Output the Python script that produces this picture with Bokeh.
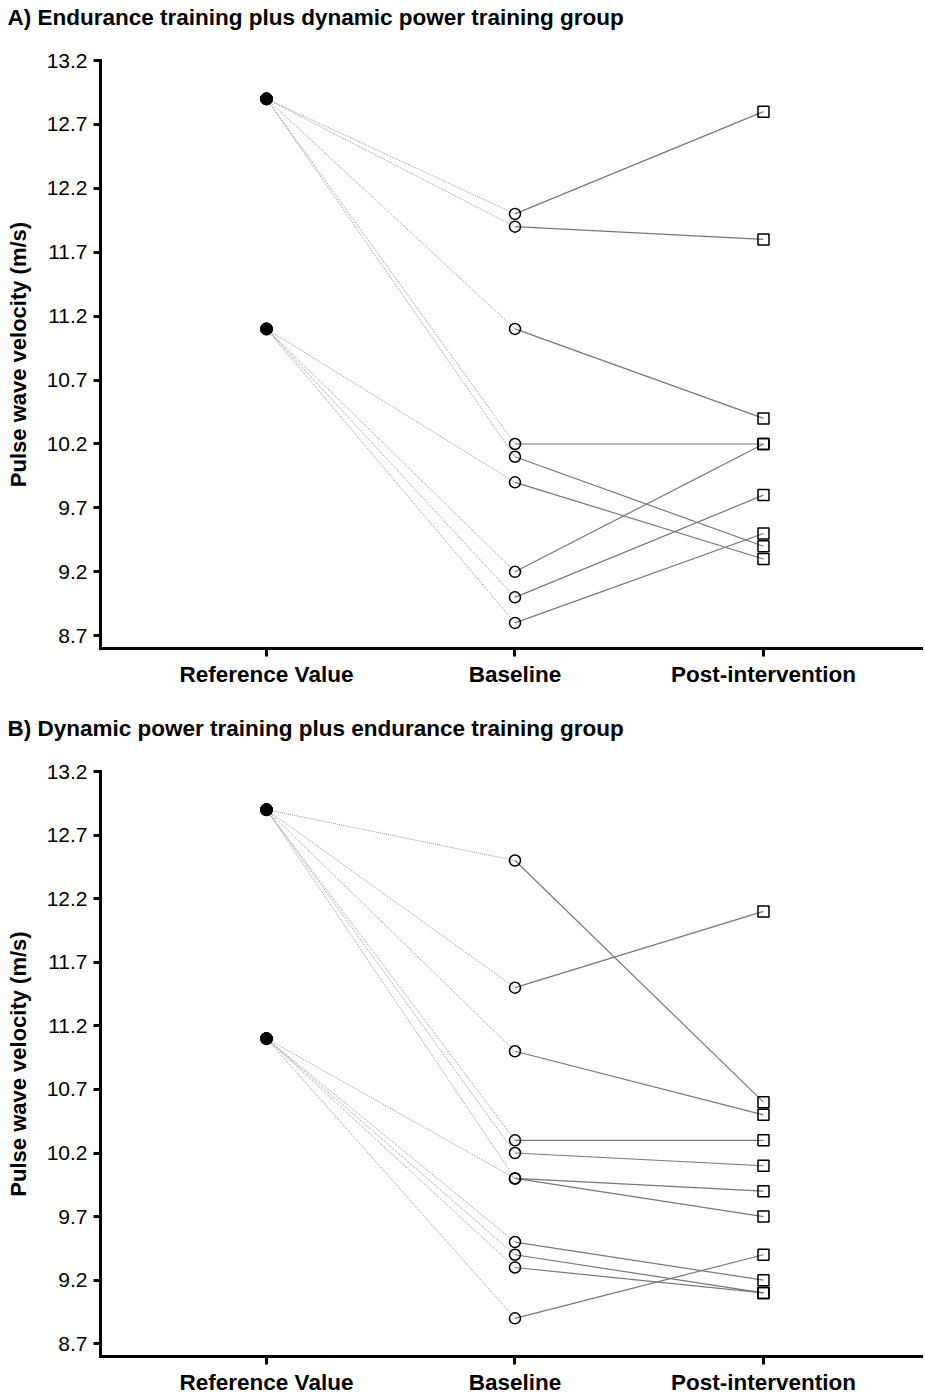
from bokeh.plotting import figure
from bokeh.models import Range1d, FixedTicker, PrintfTickFormatter, Title
from bokeh.layouts import column
from bokeh.embed import file_html
from bokeh.resources import INLINE

# ---- data ----
categories = ["Reference Value", "Baseline", "Post-intervention"]
cat_pos = [0, 1, 2]
y_ticks = [8.7, 9.2, 9.7, 10.2, 10.7, 11.2, 11.7, 12.2, 12.7, 13.2]

title_a = "A) Endurance training plus dynamic power training group"
a_ref = [12.9, 12.9, 12.9, 12.9, 12.9, 11.1, 11.1, 11.1, 11.1]
a_base = [12.0, 11.9, 11.1, 10.2, 10.1, 9.9, 9.2, 9.0, 8.8]
a_post = [12.8, 11.8, 10.4, 10.2, 9.4, 9.3, 10.2, 9.8, 9.5]

title_b = "B) Dynamic power training plus endurance training group"
b_ref = [12.9, 12.9, 12.9, 12.9, 12.9, 12.9, 11.1, 11.1, 11.1, 11.1, 11.1]
b_base = [12.5, 11.5, 11.0, 10.3, 10.2, 10.0, 10.0, 9.5, 9.4, 9.3, 8.9]
b_post = [10.6, 12.1, 10.5, 10.3, 10.1, 9.9, 9.7, 9.2, 9.1, 9.1, 9.4]

y_label = "Pulse wave velocity (m/s)"
FONT = "Liberation Sans"


def make_panel(title, refs, bases, posts, height, border_top, border_bottom):
    n = len(refs)
    p = figure(width=923, height=height,
               x_range=Range1d(-0.668, 2.644), y_range=Range1d(8.6, 13.2),
               output_backend="svg", toolbar_location=None,
               min_border_left=100, min_border_right=0, min_border_top=border_top,
               min_border_bottom=border_bottom)
    p.title.text = title
    p.title.text_font = FONT
    p.title.text_font_size = "22.5px"
    p.title.text_font_style = "bold"
    p.title.text_color = "black"
    p.title.align = "left"
    p.title.offset = -93
    p.title.standoff = 0
    # empty spacer between the title and the plot frame
    p.add_layout(Title(text=" ", text_font_size="20px", standoff=7), "above")

    p.segment(x0=[cat_pos[0]] * n, y0=refs, x1=[cat_pos[1]] * n, y1=bases,
              line_color="#999999", line_width=1, line_dash="1 1")
    p.segment(x0=[cat_pos[1]] * n, y0=bases, x1=[cat_pos[2]] * n, y1=posts,
              line_color="#777777", line_width=1.2)
    p.scatter(x=[cat_pos[0]] * n, y=refs, size=12, marker="circle",
              fill_color="black", line_color="black", line_width=0.5)
    p.scatter(x=[cat_pos[1]] * n, y=bases, size=11, marker="circle",
              fill_alpha=0, line_color="black", line_width=1.5)
    p.scatter(x=[cat_pos[2]] * n, y=posts, size=11, marker="square",
              fill_alpha=0, line_color="black", line_width=1.5)

    p.xgrid.visible = False
    p.ygrid.visible = False
    p.outline_line_color = None
    p.background_fill_color = "white"

    for ax in (p.xaxis[0], p.yaxis[0]):
        ax.axis_line_width = 3
        ax.axis_line_color = "black"
        ax.axis_line_cap = "square"
        ax.major_tick_line_width = 3
        ax.major_tick_line_color = "black"
        ax.minor_tick_line_color = None
        ax.major_tick_in = 0

    xa = p.xaxis[0]
    xa.ticker = FixedTicker(ticks=cat_pos)
    xa.major_label_overrides = {pos: lab for pos, lab in zip(cat_pos, categories)}
    xa.major_tick_out = 8
    xa.major_label_standoff = 5
    xa.major_label_text_font = FONT
    xa.major_label_text_font_size = "22.5px"
    xa.major_label_text_font_style = "bold"
    xa.major_label_text_color = "black"

    ya = p.yaxis[0]
    ya.ticker = FixedTicker(ticks=y_ticks)
    ya.formatter = PrintfTickFormatter(format="%.1f")
    ya.major_tick_out = 7
    ya.major_label_standoff = 6
    ya.major_label_text_font = FONT
    ya.major_label_text_font_size = "21px"
    ya.major_label_text_color = "black"
    ya.axis_label = y_label
    ya.axis_label_text_font = FONT
    ya.axis_label_text_font_size = "22px"
    ya.axis_label_text_font_style = "bold"
    ya.axis_label_text_color = "black"
    ya.axis_label_standoff = 13
    return p


pa = make_panel(title_a, a_ref, a_base, a_post, 713, 60, 65)
pb = make_panel(title_b, b_ref, b_base, b_post, 684, 58, 39)

layout = column(pa, pb, spacing=0)
open("out.html", "w").write(file_html(layout, INLINE))
